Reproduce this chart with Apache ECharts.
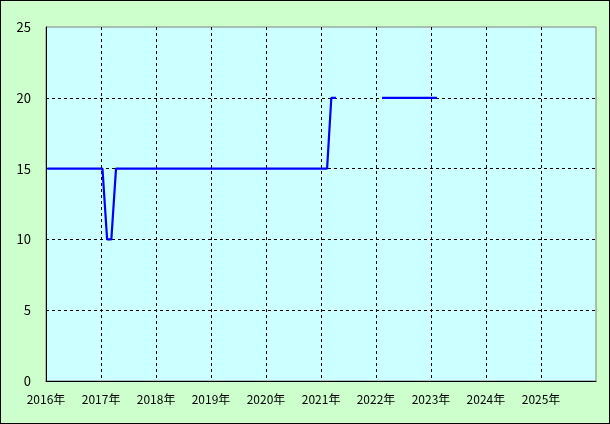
<!DOCTYPE html>
<html><head><meta charset="utf-8">
<script src="https://cdn.jsdelivr.net/npm/echarts@6/dist/echarts.min.js"></script>
<style>
html,body{margin:0;padding:0;}
#wrap{width:610px;height:424px;box-sizing:border-box;border:1px solid #000;background:#CCFFCC;}
#chart{width:608px;height:422px;}
</style></head>
<body><div id="wrap"><div id="chart"></div></div>
<script>
// monthly observations (dated the 10th of each month); null = no data
var months = [
 '2016-01','2016-02','2016-03','2016-04','2016-05','2016-06','2016-07','2016-08','2016-09','2016-10','2016-11','2016-12',
 '2017-01','2017-02','2017-03','2017-04','2017-05','2017-06','2017-07','2017-08','2017-09','2017-10','2017-11','2017-12',
 '2018-01','2018-02','2018-03','2018-04','2018-05','2018-06','2018-07','2018-08','2018-09','2018-10','2018-11','2018-12',
 '2019-01','2019-02','2019-03','2019-04','2019-05','2019-06','2019-07','2019-08','2019-09','2019-10','2019-11','2019-12',
 '2020-01','2020-02','2020-03','2020-04','2020-05','2020-06','2020-07','2020-08','2020-09','2020-10','2020-11','2020-12',
 '2021-01','2021-02','2021-03','2021-04','2021-05','2021-06','2021-07','2021-08','2021-09','2021-10','2021-11','2021-12',
 '2022-01','2022-02','2022-03','2022-04','2022-05','2022-06','2022-07','2022-08','2022-09','2022-10','2022-11','2022-12',
 '2023-01','2023-02'
];
var values = [
 15,15,15,15,15,15,15,15,15,15,15,15,
 15,10,10,15,15,15,15,15,15,15,15,15,
 15,15,15,15,15,15,15,15,15,15,15,15,
 15,15,15,15,15,15,15,15,15,15,15,15,
 15,15,15,15,15,15,15,15,15,15,15,15,
 15,15,20,20,null,null,null,null,null,null,null,null,
 null,20,20,20,20,20,20,20,20,20,20,20,
 20,20
];
var yTicks = [0,5,10,15,20,25];
var xStart = '2016-01-01', xEnd = '2026-01-01';

var data = months.map(function(m,i){ return [m + '-10', values[i]]; });
var chart = echarts.init(document.getElementById('chart'));
var font = '"Noto Sans CJK JP", "Noto Sans", sans-serif';
var DAY = 24*3600*1000;
chart.setOption({
  animation:false,
  grid:{left:45,top:26,right:13,bottom:42,show:true,backgroundColor:'#CCFFFF',borderColor:'#808080',borderWidth:1},
  xAxis:{type:'time',min:xStart,max:xEnd,minInterval:365*DAY,maxInterval:366*DAY,
    axisLine:{show:true,lineStyle:{color:'#000',width:1}},
    axisTick:{show:false},
    axisLabel:{color:'#000',fontSize:12,fontFamily:font,margin:12,showMaxLabel:false,showMinLabel:true,
      formatter:function(v){ return new Date(v).getFullYear() + '年'; }},
    splitLine:{show:true,showMinLine:false,showMaxLine:false,lineStyle:{color:'#000',type:[3,3],width:1}}
  },
  yAxis:{type:'value',min:yTicks[0],max:yTicks[yTicks.length-1],interval:5,
    axisLine:{show:true,lineStyle:{color:'#000',width:1}},
    axisTick:{show:false},
    axisLabel:{color:'#000',fontSize:13,fontFamily:font,margin:15},
    splitLine:{show:true,showMinLine:false,showMaxLine:false,lineStyle:{color:'#000',type:[3,3],width:1}}
  },
  series:[{type:'line',data:data,showSymbol:false,connectNulls:false,
    lineStyle:{color:'#0000FF',width:2.2},itemStyle:{color:'#0000FF'}}]
});
</script></body></html>
